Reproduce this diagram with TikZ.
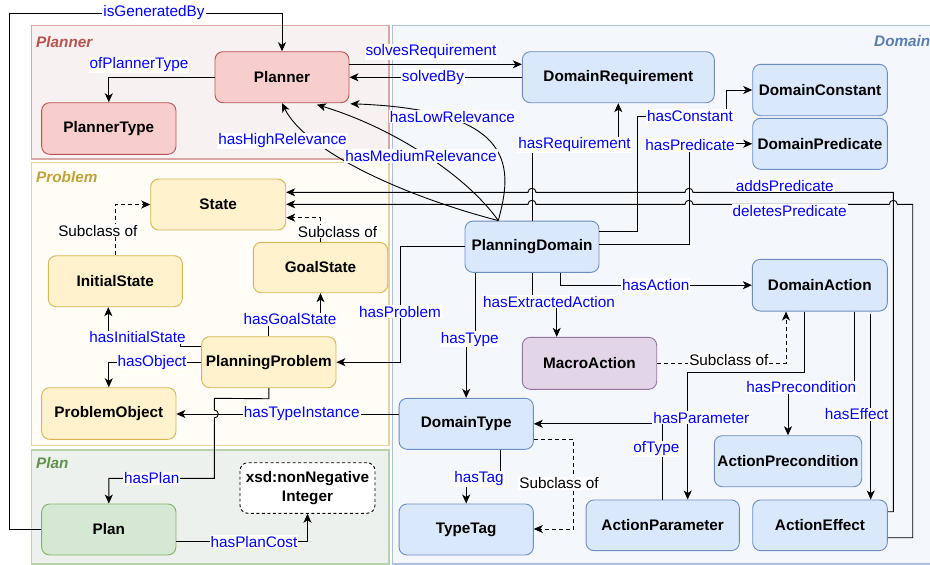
\documentclass[tikz,border=0pt]{standalone}
\usepackage{fontspec}
\setmainfont{Liberation Sans}
\usetikzlibrary{arrows.meta,calc}
\definecolor{redF}{HTML}{F8CECC}\definecolor{redD}{HTML}{B85450}
\definecolor{yelF}{HTML}{FFF2CC}\definecolor{yelD}{HTML}{D6B656}
\definecolor{grnF}{HTML}{D5E8D4}\definecolor{grnD}{HTML}{82B366}
\definecolor{bluF}{HTML}{DAE8FC}\definecolor{bluD}{HTML}{6C8EBF}
\definecolor{purF}{HTML}{E1D5E7}\definecolor{purD}{HTML}{9673A6}
\definecolor{gPlF}{HTML}{F7F1F1}\definecolor{gPlD}{HTML}{D9A8A6}
\definecolor{gPrF}{HTML}{FFFDF5}\definecolor{gPrD}{HTML}{E6D49A}
\definecolor{gPnF}{HTML}{EDF1ED}\definecolor{gPnD}{HTML}{B8D3AC}
\definecolor{gDoF}{HTML}{F4F7FC}\definecolor{gDoD}{HTML}{A9C0DF}
\definecolor{tPr}{HTML}{BFA23A}\definecolor{tPn}{HTML}{64904E}\definecolor{tDo}{HTML}{5B7FB0}
\begin{document}
\begin{tikzpicture}[x=1pt,y=-1pt,
  box/.style={draw, rounded corners=8pt, line width=0.9pt, align=center, inner sep=0pt,
    font=\fontsize{15.3}{19}\selectfont\bfseries},
  sz/.style 2 args={minimum width=#1, minimum height=#2},
  rbox/.style={box, fill=redF, draw=redD},
  ybox/.style={box, fill=yelF, draw=yelD},
  gbox/.style={box, fill=grnF, draw=grnD},
  bbox/.style={box, fill=bluF, draw=bluD},
  pbox/.style={box, fill=purF, draw=purD},
  lbl/.style={fill=white, text=blue, inner sep=1pt, font=\fontsize{15.3}{18}\selectfont},
  sublbl/.style={lbl, text=black},
  arr/.style={-{Stealth[length=9pt,width=8pt,inset=2.5pt]}, line width=0.9pt},
  dsh/.style={arr, dash pattern=on 4pt off 3pt},
  gtitle/.style={anchor=west, inner sep=0pt, font=\fontsize{15.3}{18}\selectfont\bfseries\itshape}]
\useasboundingbox (0,0) rectangle (930,565);
\fill[white] (0,0) rectangle (930,565);
% groups
\draw[line width=1.2pt, draw=gDoD, fill=gDoF] (392.7,25.7) rectangle (945,564);
\draw[line width=1.2pt, draw=gPlD, fill=gPlF] (31.7,25.7) rectangle (389,159);
\draw[line width=1.2pt, draw=gPrD, fill=gPrF] (31.7,162.7) rectangle (389,445.7);
\draw[line width=1.2pt, draw=gPnD, fill=gPnF] (31.7,450) rectangle (389,564);
\node[gtitle, text=redD] at (36,41.7) {Planner};
\node[gtitle, text=tPr] at (36,176.7) {Problem};
\node[gtitle, text=tPn] at (36,463.3) {Plan};
\node[gtitle, text=tDo] at (874,40.7) {Domain};
% nodes
\node[rbox, sz={134pt}{51pt}] (Planner) at (282,77.2) {Planner};
\node[rbox, sz={134.3pt}{51.6pt}] (PlannerType) at (108.8,128.5) {PlannerType};
\node[ybox, sz={135pt}{51pt}] (State) at (218.2,204.5) {State};
\node[ybox, sz={134pt}{51pt}] (InitialState) at (115.3,281.2) {InitialState};
\node[ybox, sz={134.4pt}{50.4pt}] (GoalState) at (320.5,267.5) {GoalState};
\node[ybox, sz={134.3pt}{51pt}] (PlanningProblem) at (268.8,362.2) {PlanningProblem};
\node[ybox, sz={134.3pt}{51.6pt}] (ProblemObject) at (108.8,413.5) {ProblemObject};
\node[gbox, sz={134.3pt}{51pt}] (Plan) at (108.8,529.5) {Plan};
\node[box, fill=white, draw=black, dash pattern=on 3pt off 2.5pt, sz={135pt}{50.6pt}] (xsd) at (307.5,488) {xsd:nonNegative\\Integer};
\node[bbox, sz={192pt}{51pt}] (DomainRequirement) at (618.3,77.2) {DomainRequirement};
\node[bbox, sz={134.6pt}{51.4pt}] (DomainConstant) at (820,90) {DomainConstant};
\node[bbox, sz={134.6pt}{51pt}] (DomainPredicate) at (820,143.8) {DomainPredicate};
\node[bbox, sz={134pt}{51.3pt}] (PlanningDomain) at (532,246.7) {PlanningDomain};
\node[bbox, sz={135pt}{51.7pt}] (DomainAction) at (819.8,285.2) {DomainAction};
\node[pbox, sz={134.4pt}{52pt}] (MacroAction) at (589.5,363.3) {MacroAction};
\node[bbox, sz={134.3pt}{51pt}] (DomainType) at (466.2,423.8) {DomainType};
\node[bbox, sz={134.3pt}{51pt}] (TypeTag) at (466.2,529.5) {TypeTag};
\node[bbox, sz={147.4pt}{51pt}] (ActionPrecondition) at (788,461.2) {ActionPrecondition};
\node[bbox, sz={153.3pt}{50.7pt}] (ActionParameter) at (662.7,525.3) {ActionParameter};
\node[bbox, sz={134.6pt}{50.7pt}] (ActionEffect) at (820,525.3) {ActionEffect};
% edges
\draw[arr] (Plan.west) -- (9.5,529.5) -- (9.5,13) -| (Planner.north);
\draw[arr] (Planner.west) -| (PlannerType.north);
\draw[arr] (Planner.east |- 0,64.3) -- (DomainRequirement.west |- 0,64.3);
\draw[arr] (DomainRequirement.west |- 0,77.3) -- (Planner.east |- 0,77.3);
\coordinate (pdtop) at ($(PlanningDomain.north)+(-33.7,0)$);
\draw[arr] (pdtop) .. controls (400,195) and (305,150) .. (Planner.south);
\draw[arr] (pdtop) .. controls (470,180) and (400,130) .. ($(Planner.south)+(35,1.5)$);
\draw[arr] (pdtop) .. controls (512,170) and (520,110) .. ($(Planner.south east)+(1,0.6)$);
\draw[arr] (PlanningDomain.north) |- (575,145) -| (DomainRequirement.south);
\draw[arr] (PlanningDomain.east |- 0,231) -| (637.3,116) -| (726.7,90) -- (DomainConstant.west);
\draw[arr] (PlanningDomain.east |- 0,244.3) -| (689,143.8) -- (DomainPredicate.west);
\draw[arr] (ActionEffect.east |- 0,511.7) -- (893.3,511.7) -- (893.3,192.3) -- (693,192.3)
  .. controls (693,187) and (685,187) .. (685,192.3) -- (536,192.3)
  .. controls (536,187) and (528,187) .. (528,192.3) -- (State.east |- 0,192.3);
\draw[arr] (ActionEffect.east |- 0,537.7) -- (912.7,537.7) -- (912.7,204.3) -- (897.3,204.3)
  .. controls (897.3,199) and (889.3,199) .. (889.3,204.3) -- (693,204.3)
  .. controls (693,199) and (685,199) .. (685,204.3) -- (536,204.3)
  .. controls (536,199) and (528,199) .. (528,204.3) -- (State.east |- 0,204.3);
\draw[arr] (PlanningDomain.west) -| (400,362.2) -- (PlanningProblem.east);
\draw[arr] (PlanningProblem.north) |- (295,319) -| (GoalState.south);
\draw[arr] (PlanningProblem.west |- 0,346.7) -| (180,334) -| ($(InitialState.south)+(-7,0)$);
\draw[arr] (PlanningProblem.west) -| (ProblemObject.north);
\draw[arr] (PlanningProblem.south) -- ++(0,10.6) -- (214.3,398.3) -- (214.3,410)
  .. controls (219.6,410) and (219.6,418) .. (214.3,418) -- (214.3,478.3) -| (Plan.north);
\draw[arr] (DomainType.west |- 0,414) -- (ProblemObject.east |- 0,414);
\draw[arr] (Plan.east |- 0,541.7) -| (xsd.south);
\draw[arr] ($(PlanningDomain.south)+(28,0)$) |- (DomainAction.west);
\draw[arr] (PlanningDomain.south) |- (545,301.7) -| ($(MacroAction.north)+(-32.8,0)$);
\draw[arr] ($(PlanningDomain.south)+(-56.3,0)$) |- (470,339) -| (DomainType.north);
\draw[arr] ($(DomainType.south)+(33.8,0)$) |- (480,479) -| (TypeTag.north);
\draw[dsh] (DomainType.east |- 0,439.3) -| (573.3,480) |- (TypeTag.east |- 0,529);
\draw[dsh] (MacroAction.east) -| ($(DomainAction.south)+(-33.8,0)$);
\draw[arr] ($(DomainAction.south)+(-15.8,0)$) |- (700,372.3) -| ($(ActionParameter.north)+(25,0)$);
\draw[arr] (ActionParameter.north) |- (DomainType.east);
\draw[arr] ($(DomainAction.south)+(34.5,0)$) |- (800,387.3) -| (ActionPrecondition.north);
\draw[arr] ($(DomainAction.south)+(50.9,2)$) -- ($(ActionEffect.north)+(50.7,0)$);
\draw[dsh] (InitialState.north) |- (State.west);
\draw[dsh] ($(GoalState.north)+(-0.5,0)$) |- (State.east |- 0,217.7);
% labels
\node[lbl] at (154,13) {isGeneratedBy};
\node[lbl] at (139,65) {ofPlannerType};
\node[lbl] at (431,52) {solvesRequirement};
\node[lbl] at (433,77.3) {solvedBy};
\node[lbl] at (282.5,140.7) {hasHighRelevance};
\node[lbl] at (421,156) {hasMediumRelevance};
\node[lbl] at (452.5,116.7) {hasLowRelevance};
\node[lbl] at (574.5,145) {hasRequirement};
\node[lbl] at (690,116) {hasConstant};
\node[lbl] at (690,145) {hasPredicate};
\node[lbl] at (784.7,185.7) {addsPredicate};
\node[lbl] at (789.7,210.7) {deletesPredicate};
\node[lbl] at (655.7,285) {hasAction};
\node[lbl] at (549,301.7) {hasExtractedAction};
\node[lbl] at (469.7,339.3) {hasType};
\node[lbl] at (400,311.7) {hasProblem};
\node[lbl] at (290,319.3) {hasGoalState};
\node[lbl] at (137.5,337.3) {hasInitialState};
\node[lbl] at (152,362.3) {hasObject};
\node[lbl] at (301.7,414) {hasTypeInstance};
\node[lbl] at (151.7,478.3) {hasPlan};
\node[lbl] at (254,541.7) {hasPlanCost};
\node[lbl] at (479,479) {hasTag};
\node[sublbl] at (97.8,230.7) {Subclass of};
\node[sublbl] at (337.5,231.7) {Subclass of};
\node[sublbl] at (559,483.3) {Subclass of};
\node[sublbl] at (728.8,360) {Subclass of};
\node[lbl] at (701.3,417.7) {hasParameter};
\node[lbl] at (656.3,449) {ofType};
\node[lbl] at (801.3,387.3) {hasPrecondition};
\node[lbl] at (856.7,414.3) {hasEffect};
\end{tikzpicture}
\end{document}
